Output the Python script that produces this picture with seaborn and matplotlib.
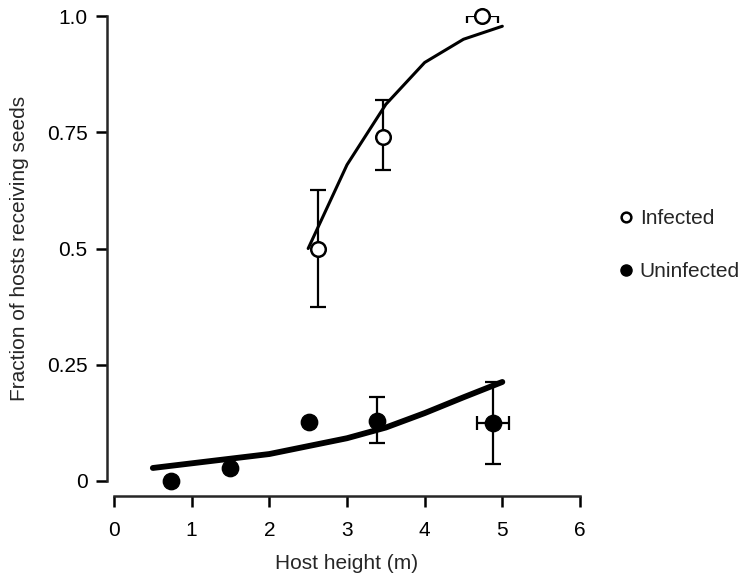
import matplotlib
matplotlib.use("Agg")
import matplotlib.pyplot as plt
import pandas as pd
import seaborn as sns
from matplotlib.lines import Line2D

# fitted curves
inf_curve_x = [2.5, 3.0, 3.5, 4.0, 4.5, 5.0]
inf_curve_y = [0.50, 0.68, 0.81, 0.90, 0.95, 0.978]
uninf_curve_x = [0.5, 1.0, 1.5, 2.0, 2.5, 3.0, 3.5, 4.0, 4.5, 5.0]
uninf_curve_y = [0.028, 0.038, 0.048, 0.058, 0.075, 0.092, 0.115, 0.146, 0.18, 0.213]

# observed points
inf_x = [2.63, 3.46, 4.74]
inf_y = [0.50, 0.74, 1.0]
inf_lo = [0.374, 0.669, 1.0]
inf_hi = [0.626, 0.819, 1.0]
inf_xerr = [0.0, 0.0, 0.2]

uninf_x = [0.73, 1.49, 2.51, 3.38, 4.88]
uninf_y = [0.0, 0.028, 0.127, 0.129, 0.125]
uninf_lo = [0.0, 0.028, 0.127, 0.082, 0.037]
uninf_hi = [0.0, 0.028, 0.127, 0.181, 0.213]
uninf_xerr = [0.0, 0.0, 0.0, 0.0, 0.2]

sns.set_style("ticks")
plt.rcParams['font.family'] = ['Liberation Sans', 'DejaVu Sans']
fs = 15

fig = plt.figure(figsize=(7.42, 5.75), dpi=100)
ax = fig.add_axes([114 / 742, 94 / 575, 466 / 742, 465 / 575])

curves = pd.DataFrame({'x': inf_curve_x, 'y': inf_curve_y})
sns.lineplot(data=curves, x='x', y='y', color='black', lw=2.2, ax=ax)
curves2 = pd.DataFrame({'x': uninf_curve_x, 'y': uninf_curve_y})
sns.lineplot(data=curves2, x='x', y='y', color='black', lw=4.2, ax=ax)

# error bars (only where they exist)
def draw_err(xs, ys, lo, hi, xe):
    for x, y, l, h, e in zip(xs, ys, lo, hi, xe):
        if h > l:
            ax.errorbar(x, y, yerr=[[y - l], [h - y]], fmt='none', ecolor='black',
                        elinewidth=1.6, capsize=6, capthick=1.6, zorder=2)
        if e > 0:
            ax.errorbar(x, y, xerr=e, fmt='none', ecolor='black',
                        elinewidth=1.6, capsize=5, capthick=1.6, zorder=2)

draw_err(inf_x, inf_y, inf_lo, inf_hi, inf_xerr)
draw_err(uninf_x, uninf_y, uninf_lo, uninf_hi, uninf_xerr)

sns.scatterplot(x=inf_x, y=inf_y, s=110, marker='o', facecolor='white',
                edgecolor='black', linewidth=1.8, zorder=4, ax=ax, clip_on=False)
sns.scatterplot(x=uninf_x, y=uninf_y, s=140, marker='o', color='black',
                edgecolor='black', zorder=4, ax=ax, clip_on=False)

ax.set_xlim(0, 6)
ax.set_ylim(0, 1)
ax.set_xticks(range(7))
ax.set_yticks([0, 0.25, 0.5, 0.75, 1.0])
ax.set_yticklabels(['0', '0.25', '0.5', '0.75', '1.0'])
ax.spines['bottom'].set_position(('outward', 11))
ax.spines['left'].set_position(('outward', 5))
for s in ['top', 'right']:
    ax.spines[s].set_visible(False)
for s in ['bottom', 'left']:
    ax.spines[s].set_linewidth(1.8)
ax.tick_params(width=1.8, length=8, labelsize=fs, colors='black')
ax.tick_params(axis='x', pad=10)
ax.tick_params(axis='y', pad=6)

ax.set_xlabel('Host height (m)', fontsize=fs, labelpad=10)
ax.set_ylabel('Fraction of hosts receiving seeds', fontsize=fs, labelpad=13)

handles = [
    Line2D([], [], ls='none', marker='o', mfc='white', mec='black', mew=1.8, ms=7),
    Line2D([], [], ls='none', marker='o', mfc='black', mec='black', ms=8),
]
fig.legend(handles, ['Infected', 'Uninfected'], loc='center left',
           bbox_to_anchor=(597 / 742, 1 - 245 / 575), frameon=False,
           fontsize=fs, labelspacing=1.65, handletextpad=0.15, handlelength=1.0)

fig.savefig('out.png', dpi=100)
